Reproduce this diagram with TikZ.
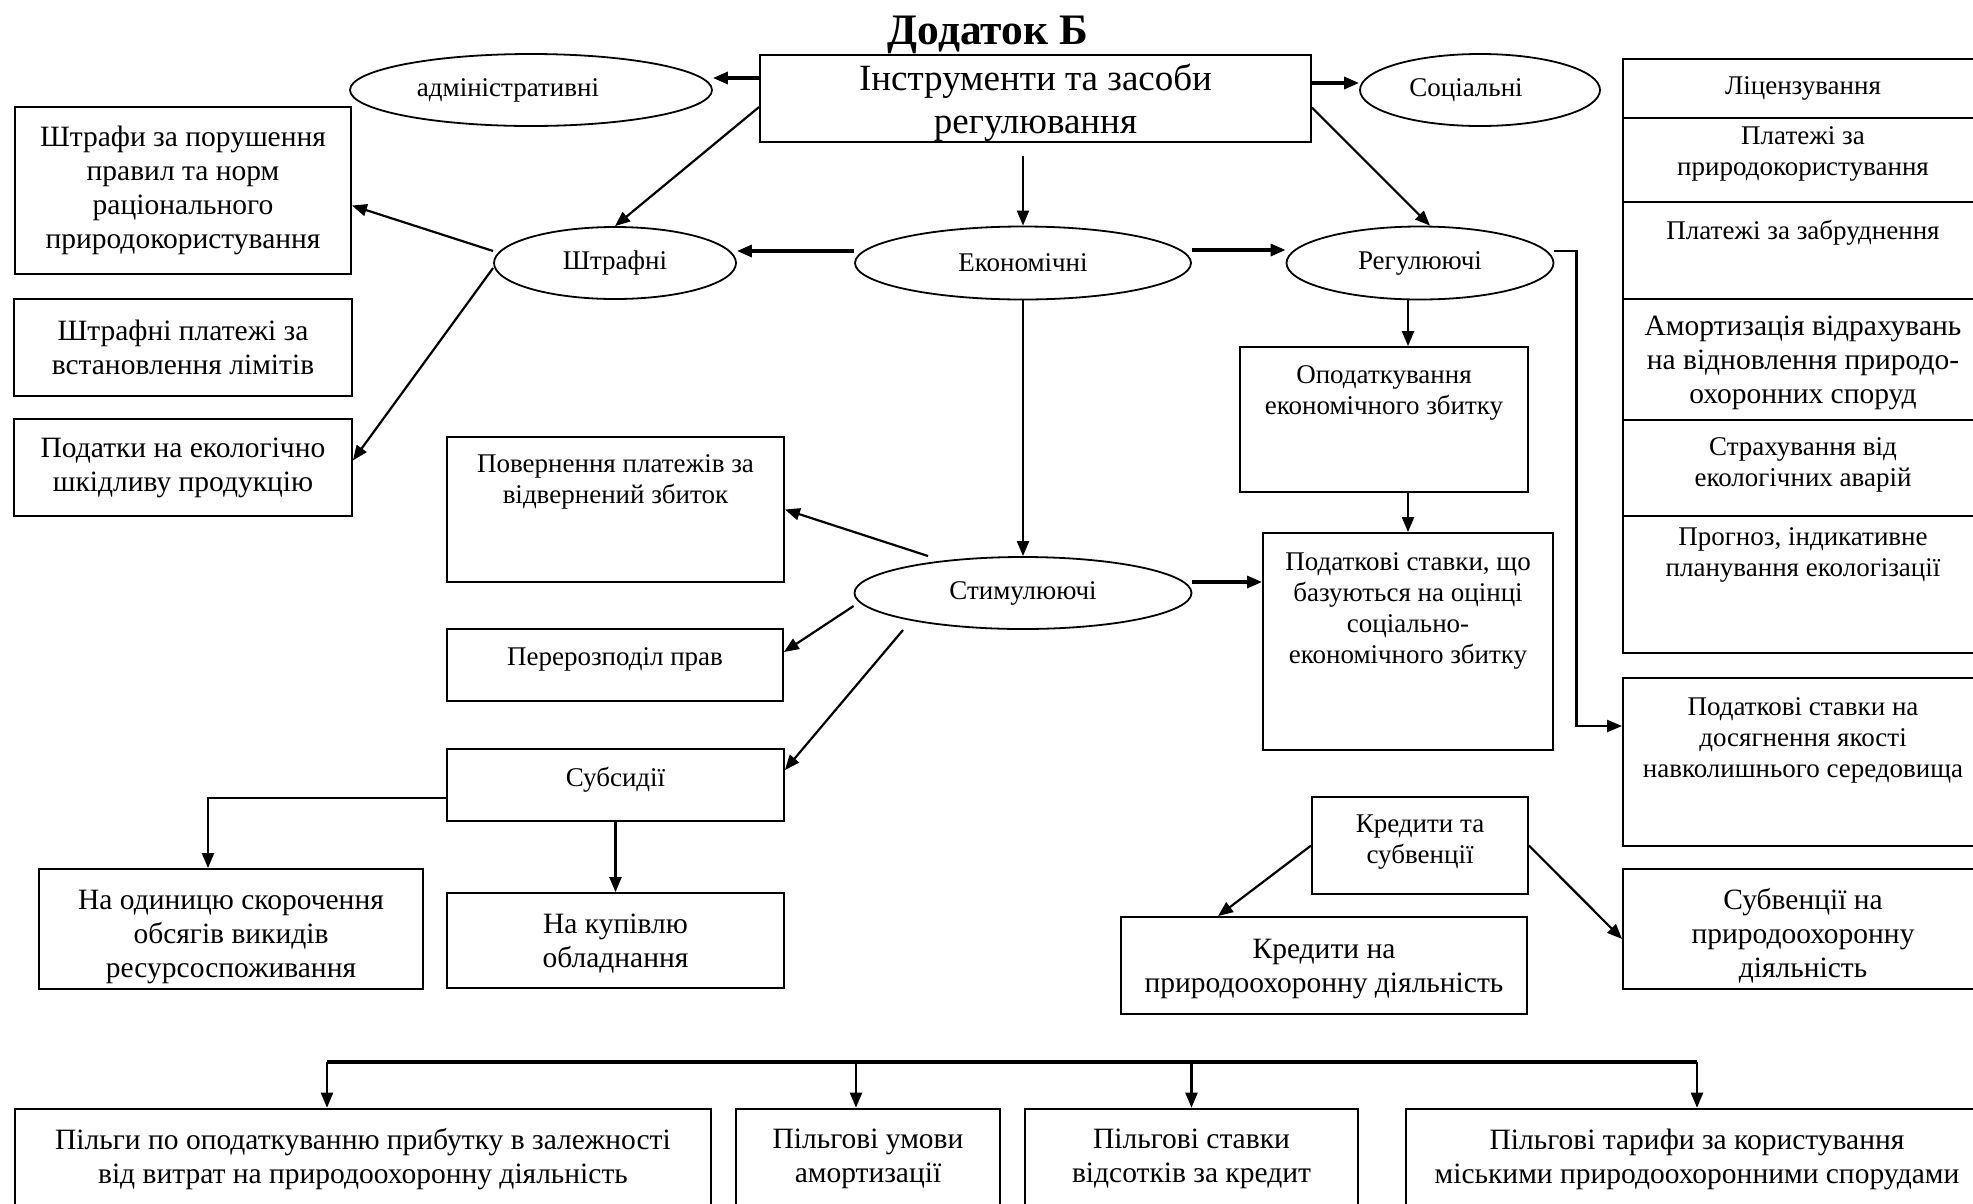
\documentclass[tikz,border=0pt]{standalone}
\usepackage{fontspec}
\setmainfont{Liberation Serif}
\usepackage{tikz}
\usetikzlibrary{shapes.geometric,arrows.meta}

\newcommand{\txtTitle}{\fontsize{43.5}{50}\selectfont\bfseries}
\newcommand{\txtMain}{\fontsize{37}{43}\selectfont}
\newcommand{\txtBig}{\fontsize{29.5}{34}\selectfont}
\newcommand{\txtSmall}{\fontsize{27}{31}\selectfont}

\begin{document}
\begin{tikzpicture}
  [x=1pt,y=-1pt,every node/.style={draw,align=center,inner sep=0pt,line width=1.8pt}]

  \tikzstyle{oval}  = [ellipse, font=\txtSmall]
  \tikzstyle{big}   = [rectangle, font=\txtBig]
  \tikzstyle{small} = [rectangle, font=\txtSmall]
  \tikzstyle{link}  = [->, >={Triangle[length=15pt,width=12pt]}, line width=2.2pt]
  \tikzstyle{heavy} = [line width=3.2pt]

  \useasboundingbox (0,0) rectangle (1973,1203);
  \clip (0,0) rectangle (1973,1203);

  % top level
  \node[draw=none, font=\txtTitle] (title) at (988,35) {Додаток Б};
  \node[rectangle, font=\txtMain, minimum width=551, minimum height=87, text depth=0] (main) at (1035.5,98.5)
        {Інструменти та засоби\\регулювання};

  \node[oval, minimum width=362, minimum height=72] (adm)  at (531,90)   {\hspace*{-46pt}адміністративні};
  \node[oval, minimum width=240, minimum height=72] (soc)  at (1480,90)  {\hspace*{-28pt}Соціальні};
  \node[oval, minimum width=242, minimum height=72] (shtr) at (615,263)  {Штрафні};
  \node[oval, minimum width=336, minimum height=73] (econ) at (1023,263) {Економічні};
  \node[oval, minimum width=267, minimum height=73] (reg)  at (1420,263) {Регулюючі};
  \node[oval, minimum width=337, minimum height=72] (stim) at (1023,593) {Стимулюючі};

  % fines
  \node[big, minimum width=336, minimum height=167] (fine1) at (183,190.5)
        {Штрафи за порушення\\правил та норм\\раціонального\\природокористування};
  \node[big, minimum width=338, minimum height=97] (fine2) at (183,347.5)
        {Штрафні платежі за\\встановлення лімітів};
  \node[big, minimum width=338, minimum height=97] (fine3) at (183,467.5)
        {Податки на екологічно\\шкідливу продукцію};

  % stimulating
  \node[small, minimum width=337, minimum height=145, text depth=60.7] (refund) at (615.5,509.5)
        {Повернення платежів за\\відвернений збиток};
  \node[small, minimum width=336, minimum height=72, text depth=16.7] (rights) at (615,665)
        {Перерозподіл прав};
  \node[small, minimum width=337, minimum height=72, text depth=16.7] (subs) at (615.5,785)
        {Субсидії};
  \node[big, minimum width=384, minimum height=120, text height=97, text depth=0] (perunit) at (231,929)
        {На одиницю скорочення\\обсягів викидів\\ресурсоспоживання};
  \node[big, minimum width=337, minimum height=95, text depth=0] (equip) at (615.5,940.5)
        {На купівлю\\обладнання};

  % regulating
  \node[small, minimum width=288, minimum height=145, text depth=58.7] (taxdmg) at (1384,419.5)
        {Оподаткування\\економічного збитку};
  \node[small, minimum width=290, minimum height=217, text depth=67.7] (rates) at (1408,641.5)
        {Податкові ставки, що\\базуються на оцінці\\соціально-\\економічного збитку};
  \node[small, minimum width=216, minimum height=97, text depth=12.1] (credit) at (1420,845.5)
        {Кредити та\\субвенції};
  \node[big, minimum width=406, minimum height=97, text depth=0] (creditfor) at (1324,965.5)
        {Кредити на\\природоохоронну діяльність};

  % right column
  \node[small, minimum width=360, minimum height=59] (lic) at (1803,88.5) {Ліцензування};
  \node[small, minimum width=360, minimum height=84, text depth=17.7] (payuse) at (1803,160)
        {Платежі за\\природокористування};
  \node[small, minimum width=360, minimum height=97, text depth=41.7] (paypol) at (1803,250.5)
        {Платежі за забруднення};
  \node[big, minimum width=360, minimum height=121, text depth=0] (amort) at (1803,359.5)
        {Амортизація відрахувань\\на відновлення природо-\\охоронних споруд};
  \node[small, minimum width=360, minimum height=96, text depth=12.7] (insur) at (1803,468)
        {Страхування від\\екологічних аварій};
  \node[small, minimum width=360, minimum height=137, text depth=64.7] (forecast) at (1803,584.5)
        {Прогноз, індикативне\\планування екологізації};
  \node[small, minimum width=360, minimum height=168, text depth=48.7] (quality) at (1803,762)
        {Податкові ставки на\\досягнення якості\\навколишнього середовища};
  \node[big, minimum width=360, minimum height=120, text height=97, text depth=0] (subv) at (1803,929)
        {Субвенції на\\природоохоронну\\діяльність};

  % benefits
  \node[big, minimum width=696, minimum height=121, text depth=26.8, line width=2.6pt] (ben1) at (363,1169.5)
        {Пільги по оподаткуванню прибутку в залежності\\від витрат на природоохоронну діяльність};
  \node[big, minimum width=264, minimum height=121, text depth=26.8, line width=2.6pt] (ben2) at (868,1169.5)
        {Пільгові умови\\амортизації};
  \node[big, minimum width=333, minimum height=121, text depth=26.8, line width=2.6pt] (ben3) at (1191.5,1169.5)
        {Пільгові ставки\\відсотків за кредит};
  \node[big, minimum width=582, minimum height=121, text depth=26.8, line width=2.6pt] (ben4) at (1697,1169.5)
        {Пільгові тарифи за користування\\міськими природоохоронними спорудами};

  \coordinate (barL) at (327,1062);
  \coordinate (barR) at (1697,1062);

  \path[link]
        ([yshift=20.5pt]main.west) edge[heavy] ([yshift=20.5pt]main.west -| adm.east)
        ([yshift=15.5pt]main.east) edge[heavy] ([yshift=15.5pt]main.east -| soc.west)
        ([yshift=-8.5pt]main.west) edge (shtr.north)
        (econ.north |- main.south) edge[shorten <=13pt] (econ.north)
        ([yshift=-9pt]main.east)   edge ([xshift=10pt]reg.north)
        ([yshift=12pt]econ.west)   edge[heavy] ([yshift=12pt]econ.west -| shtr.east)
        ([yshift=13pt]econ.east)   edge[heavy] ([yshift=13pt]econ.east -| reg.west)
        (econ.south) edge (stim.north)
        ([yshift=12pt]shtr.west) edge ([yshift=-15pt]fine1.east)
        ([yshift=-5pt]shtr.west) edge ([yshift=7pt]fine3.east)
        ([shift={(-95pt,37pt)}]stim.center) edge (refund.east)
        ([yshift=-13pt]stim.west) edge ([yshift=13pt]rights.east)
        ([shift={(-120pt,-37pt)}]stim.center) edge ([yshift=15pt]subs.east)
        ([yshift=11pt]stim.east) edge[heavy] ([yshift=11pt]stim.east -| rates.west)
        (subs.south) edge (equip.north)
        (rates.north |- reg.south) edge (rates.north |- taxdmg.north)
        (rates.north |- taxdmg.south) edge (rates.north)
        (credit.west) edge ([xshift=-106pt]creditfor.north)
        (credit.east) edge ([yshift=-10pt]subv.west)
        (barL) edge (barL |- ben1.north)
        ([xshift=-12pt]ben2.north |- barL) edge ([xshift=-12pt]ben2.north)
        (ben3.north |- barL) edge (ben3.north)
        (barR) edge (ben4.north);

  \draw[link] ([yshift=12pt]reg.east) -- ++(22,0) |- ([yshift=36pt]quality.west);
  \draw[link] ([yshift=-13pt]subs.west) -| ([xshift=-23pt]perunit.north);
  \draw[line width=3.2pt] (barL) -- (barR);
\end{tikzpicture}
\end{document}
